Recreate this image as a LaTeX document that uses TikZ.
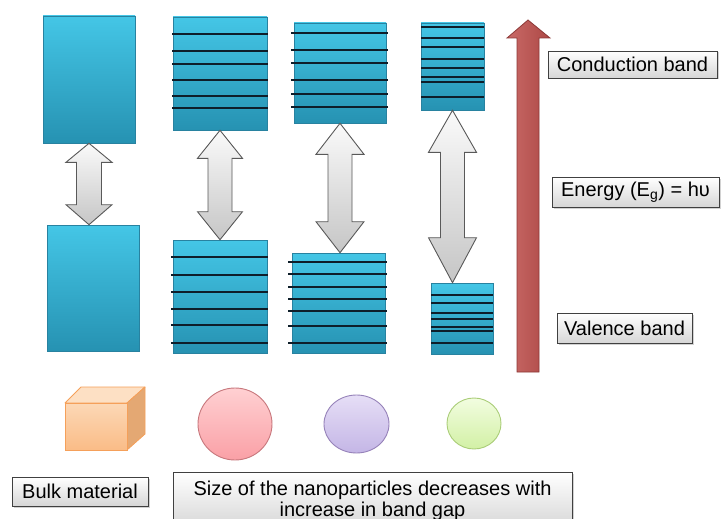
\documentclass[tikz,border=0pt]{standalone}
\usepackage{fontspec}
\setmainfont{Liberation Sans}
\usetikzlibrary{shapes.geometric,shadows,calc}
\definecolor{bluetop}{RGB}{68,198,230}
\definecolor{bluebot}{RGB}{38,146,178}
\definecolor{blueedge}{RGB}{40,130,160}
\definecolor{lvlcol}{RGB}{14,30,42}
\definecolor{redfill}{RGB}{192,80,77}
\definecolor{rededge}{RGB}{140,56,54}
\definecolor{cubefront1}{RGB}{252,216,182}
\definecolor{cubefront2}{RGB}{250,188,135}
\definecolor{cubetop}{RGB}{253,224,196}
\definecolor{cubeside}{RGB}{228,168,115}
\definecolor{cubeedge}{RGB}{245,160,90}
\definecolor{redtop}{RGB}{255,208,210}
\definecolor{redbot}{RGB}{250,160,166}
\definecolor{rededge2}{RGB}{200,120,125}
\definecolor{purtop}{RGB}{230,222,246}
\definecolor{purbot}{RGB}{196,182,230}
\definecolor{puredge}{RGB}{150,130,185}
\definecolor{grntop}{RGB}{242,253,224}
\definecolor{grnbot}{RGB}{210,240,165}
\definecolor{grnedge}{RGB}{170,205,120}
\newcommand\gaparrow[6]{%
  \path[garrow] let \p1=(#1.south), \p2=(#2.north) in
    (\x1,\y1) -- (\x1+#3pt,\y1-#5pt) -- (\x1+#4pt,\y1-#5pt) -- (\x1+#4pt,\y2+#6pt)
    -- (\x1+#3pt,\y2+#6pt) -- (\x1,\y2) -- (\x1-#3pt,\y2+#6pt) -- (\x1-#4pt,\y2+#6pt)
    -- (\x1-#4pt,\y1-#5pt) -- (\x1-#3pt,\y1-#5pt) -- cycle;}
\begin{document}
\begin{tikzpicture}[x=1pt,y=-1pt,
  band/.style={rectangle, inner sep=0pt, top color=bluetop, bottom color=bluebot,
    draw=blueedge, line width=0.6pt},
  lvl/.style={draw=lvlcol, line width=1.3pt},
  garrow/.style={top color=gray!4, bottom color=gray!45, draw=black!65, line width=0.9pt, line join=miter},
  lbl/.style={rectangle, draw=black!75, line width=0.8pt, top color=white, bottom color=gray!32,
    font=\fontsize{20}{21}\selectfont, inner xsep=5pt, inner ysep=0pt,
    drop shadow={shadow xshift=1.5pt, shadow yshift=-1.5pt, opacity=0.35}},
  particle/.style={ellipse, inner sep=0pt, line width=0.9pt}]
\clip (0,0) rectangle (721,519);
\fill[white] (0,0) rectangle (721,519);

% band boxes
\node[band, minimum width=92pt, minimum height=127pt] (b1u) at (89,79.5) {};
\node[band, minimum width=94pt, minimum height=113pt] (b2u) at (220,73.5) {};
\node[band, minimum width=92pt, minimum height=100pt] (b3u) at (340,73) {};
\node[band, minimum width=63pt, minimum height=87pt] (b4u) at (452.5,66.5) {};
\node[band, minimum width=92pt, minimum height=126pt] (b1l) at (93,288) {};
\node[band, minimum width=94pt, minimum height=113pt] (b2l) at (220,296.5) {};
\node[band, minimum width=93pt, minimum height=100pt] (b3l) at (338.5,303) {};
\node[band, minimum width=62pt, minimum height=71pt] (b4l) at (462,318.5) {};

% energy levels
\foreach \y in {34,51,64,80,96,108} \draw[lvl] (172,\y) -- (268,\y);
\foreach \y in {33,50,63,80,94,107} \draw[lvl] (291,\y) -- (388,\y);
\foreach \y in {27,38,47,59,68,77,82,97} \draw[lvl] (421,\y) -- (484,\y);
\foreach \y in {257,275,292,309,325,343} \draw[lvl] (171,\y) -- (268,\y);
\foreach \y in {262,274,287,299,311,326,343} \draw[lvl] (288,\y) -- (387,\y);
\foreach \y in {295,303,313,319,327,331,343} \draw[lvl] (431,\y) -- (493,\y);

% double arrows (band gaps)
\gaparrow{b1u}{b1l}{23}{12.5}{19}{20}
\gaparrow{b2u}{b2l}{22.5}{12}{28}{28}
\gaparrow{b3u}{b3l}{24}{12}{31}{31}
\gaparrow{b4u}{b4l}{24}{12}{42}{45}

% energy arrow
\coordinate (etip) at (528,20);
\coordinate (ebase) at (528,372);
\path[left color=redfill!85!white, right color=redfill!90!black, draw=rededge, line width=0.8pt]
  ($(ebase)+(-11,0)$) -- ($(etip)+(-11,18)$) -- ($(etip)+(-21,18)$) -- (etip)
  -- ($(etip)+(22,18)$) -- ($(etip)+(11,18)$) -- ($(ebase)+(11,0)$) -- cycle;

% labels
\node[lbl, minimum width=169pt, minimum height=27pt] (cb) at (632.5,64.5) {Conduction band};
\node[lbl, minimum width=167pt, minimum height=30pt] (eg) at (635.5,192) {Energy (E\textsubscript{g}) = hυ};
\node[lbl, minimum width=135pt, minimum height=30pt] (vb) at (624.5,328) {Valence band};
\node[lbl, minimum width=136pt, minimum height=29pt] (bulk) at (80,491.5) {Bulk material};
\node[lbl, minimum width=399pt, minimum height=56pt, align=center, anchor=north] (np) at (372.5,472)
  {Size of the nanoparticles decreases with\\increase in band gap};

% bulk cube
\draw[cubeedge, line width=0.8pt, fill=cubetop, line join=round] (65,403) -- (81,387) -- (145,387) -- (127,403) -- cycle;
\draw[cubeedge, line width=0.8pt, fill=cubeside, line join=round] (127,403) -- (145,387) -- (145,434) -- (127,450) -- cycle;
\path[top color=cubefront1, bottom color=cubefront2, draw=cubeedge, line width=0.8pt] (65,403) rectangle (127,450);

% nanoparticles
\node[particle, minimum width=74pt, minimum height=72pt, top color=redtop, bottom color=redbot, draw=rededge2] (p1) at (235,424) {};
\node[particle, minimum width=65pt, minimum height=58pt, top color=purtop, bottom color=purbot, draw=puredge] (p2) at (356.5,424) {};
\node[particle, minimum width=54pt, minimum height=51pt, top color=grntop, bottom color=grnbot, draw=grnedge] (p3) at (474,423.5) {};
\end{tikzpicture}
\end{document}
